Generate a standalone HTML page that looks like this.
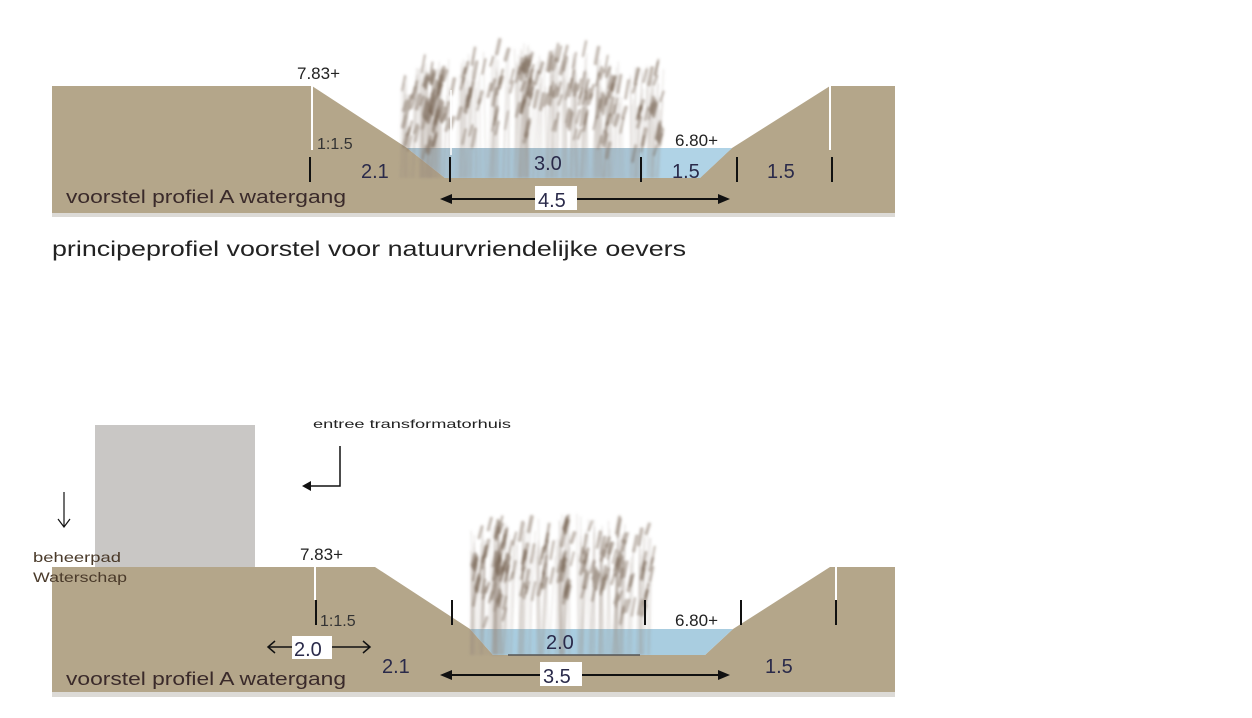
<!DOCTYPE html>
<html><head><meta charset="utf-8"><style>
html,body{margin:0;padding:0;background:#fff;width:1252px;height:718px;overflow:hidden}
svg text{font-family:"Liberation Sans",sans-serif}
</style></head><body>
<svg id="s" width="1252" height="718" viewBox="0 0 1252 718" xmlns="http://www.w3.org/2000/svg">
<defs><filter id="bl" x="-10%" y="-10%" width="120%" height="120%"><feGaussianBlur stdDeviation="1.2"/></filter></defs>
<!-- TOP PROFILE -->
<rect x="52" y="212" width="843" height="5" fill="#dcdad6"/>
<polygon points="52,86 312,86 407,148 445,178 700,178 732,148 830,86 895,86 895,213 52,213" fill="#b4a68a"/>
<polygon points="407,148 732,148 700,178 445,178" fill="#a9c4d4"/>
<polygon points="640,148 732,148 700,178 640,178" fill="#b0d3e6"/>
<g id="reedTop" filter="url(#bl)"></g>
<line x1="312" y1="86" x2="312" y2="150" stroke="#fff" stroke-width="2"/>
<line x1="830" y1="86" x2="830" y2="150" stroke="#fff" stroke-width="2"/>
<line x1="451" y1="90" x2="451" y2="155" stroke="#fff" stroke-width="1.5"/>
<g stroke="#111" stroke-width="2">
<line x1="310" y1="157" x2="310" y2="182"/><line x1="450" y1="157" x2="450" y2="182"/>
<line x1="641" y1="157" x2="641" y2="182"/><line x1="737" y1="157" x2="737" y2="182"/>
<line x1="832" y1="157" x2="832" y2="182"/>
</g>
<text x="297" y="79" font-size="17" fill="#222">7.83+</text>
<text x="317" y="149" font-size="16" fill="#333">1:1.5</text>
<text x="361" y="178" font-size="20" fill="#2a2a4a">2.1</text>
<text x="534" y="170" font-size="20" fill="#2a2a4a">3.0</text>
<text x="672" y="178" font-size="20" fill="#2a2a4a">1.5</text>
<text x="767" y="178" font-size="20" fill="#2a2a4a">1.5</text>
<text x="675" y="146" font-size="17" fill="#222">6.80+</text>
<text x="66" y="203" font-size="18" fill="#3a2a2a" textLength="280" lengthAdjust="spacingAndGlyphs">voorstel profiel A watergang</text>
<line x1="448" y1="199" x2="722" y2="199" stroke="#111" stroke-width="2"/>
<polygon points="440,199 452,194 452,204" fill="#111"/><polygon points="730,199 718,194 718,204" fill="#111"/>
<rect x="535" y="186" width="42" height="24" fill="#fff"/>
<text x="538" y="207" font-size="20" fill="#2a2a4a">4.5</text>
<text x="52" y="256" font-size="21" fill="#222" textLength="634" lengthAdjust="spacingAndGlyphs">principeprofiel voorstel voor natuurvriendelijke oevers</text>

<!-- BOTTOM PROFILE -->
<rect x="95" y="425" width="160" height="142" fill="#c9c7c5"/>
<rect x="52" y="692" width="843" height="5" fill="#dcdad6"/>
<polygon points="52,567 375,567 470,629 493,655 705,655 733,629 830,567 895,567 895,692 52,692" fill="#b4a68a"/>
<polygon points="470,629 733,629 705,655 493,655" fill="#a9cde0"/>
<g id="reedBot" filter="url(#bl)"></g>
<line x1="315" y1="567" x2="315" y2="600" stroke="#fff" stroke-width="2"/>
<line x1="836" y1="567" x2="836" y2="600" stroke="#fff" stroke-width="2"/>
<line x1="508" y1="655" x2="640" y2="655" stroke="#555" stroke-width="1.5"/>
<g stroke="#111" stroke-width="2">
<line x1="316" y1="600" x2="316" y2="625"/><line x1="452" y1="600" x2="452" y2="625"/>
<line x1="645" y1="600" x2="645" y2="625"/><line x1="741" y1="600" x2="741" y2="625"/>
<line x1="836" y1="600" x2="836" y2="625"/>
</g>
<text x="300" y="560" font-size="17" fill="#222">7.83+</text>
<text x="320" y="626" font-size="16" fill="#333">1:1.5</text>
<text x="382" y="673" font-size="20" fill="#2a2a4a">2.1</text>
<text x="546" y="649" font-size="20" fill="#2a2a4a">2.0</text>
<text x="765" y="673" font-size="20" fill="#2a2a4a">1.5</text>
<text x="675" y="626" font-size="17" fill="#222">6.80+</text>
<text x="66" y="685" font-size="18" fill="#3a2a2a" textLength="280" lengthAdjust="spacingAndGlyphs">voorstel profiel A watergang</text>
<line x1="448" y1="675" x2="722" y2="675" stroke="#111" stroke-width="2"/>
<polygon points="440,675 452,670 452,680" fill="#111"/><polygon points="730,675 718,670 718,680" fill="#111"/>
<rect x="540" y="662" width="42" height="24" fill="#fff"/>
<text x="543" y="683" font-size="20" fill="#2a2a4a">3.5</text>
<line x1="268" y1="647" x2="370" y2="647" stroke="#111" stroke-width="1.5"/>
<polyline points="275,641 268,647 275,653" fill="none" stroke="#111" stroke-width="1.5"/>
<polyline points="363,641 370,647 363,653" fill="none" stroke="#111" stroke-width="1.5"/>
<rect x="292" y="636" width="40" height="23" fill="#fff"/>
<text x="294" y="656" font-size="20" fill="#2a2a4a">2.0</text>
<text x="313" y="428" font-size="12" fill="#222" textLength="198" lengthAdjust="spacingAndGlyphs">entree transformatorhuis</text>
<polyline points="340,446 340,486 306,486" fill="none" stroke="#111" stroke-width="1.5"/>
<polygon points="302,486 311,481 311,491" fill="#111"/>
<line x1="64" y1="492" x2="64" y2="527" stroke="#111" stroke-width="1.2"/>
<polyline points="58,519 64,527 70,519" fill="none" stroke="#111" stroke-width="1.2"/>
<text x="33" y="562" font-size="14" fill="#4a3a2a" textLength="88" lengthAdjust="spacingAndGlyphs">beheerpad</text>
<text x="33" y="582" font-size="14" fill="#4a3a2a" textLength="94" lengthAdjust="spacingAndGlyphs">Waterschap</text>
</svg>
<script>
(function(){
var ns="http://www.w3.org/2000/svg";var seed=7;function r(){seed=(seed*9301+49297)%233280;return seed/233280;}
function reeds(id,x0,x1,yt,yb,n){var g=document.getElementById(id);
for(var i=0;i<n;i++){var x=x0+r()*(x1-x0);var top=yt+r()*45+Math.abs(x-(x0+x1)/2)*0.2;
var l=document.createElementNS(ns,"line");l.setAttribute("x1",x);l.setAttribute("y1",yb);l.setAttribute("x2",x+(r()*10-3));l.setAttribute("y2",top);
l.setAttribute("stroke","#9a8c80");l.setAttribute("stroke-width","0.8");l.setAttribute("opacity","0.3");g.appendChild(l);
var h=document.createElementNS(ns,"line");var hy=top+r()*60;h.setAttribute("x1",x+2);h.setAttribute("y1",hy);h.setAttribute("x2",x+5);h.setAttribute("y2",hy-8-r()*10);
h.setAttribute("stroke","#6e5a48");h.setAttribute("stroke-width",2+r()*2);h.setAttribute("opacity","0.4");h.setAttribute("stroke-linecap","round");g.appendChild(h);}}
reeds("reedTop",400,660,42,178,240);
reeds("reedBot",470,650,510,655,180);
})();
</script>
</body></html>
